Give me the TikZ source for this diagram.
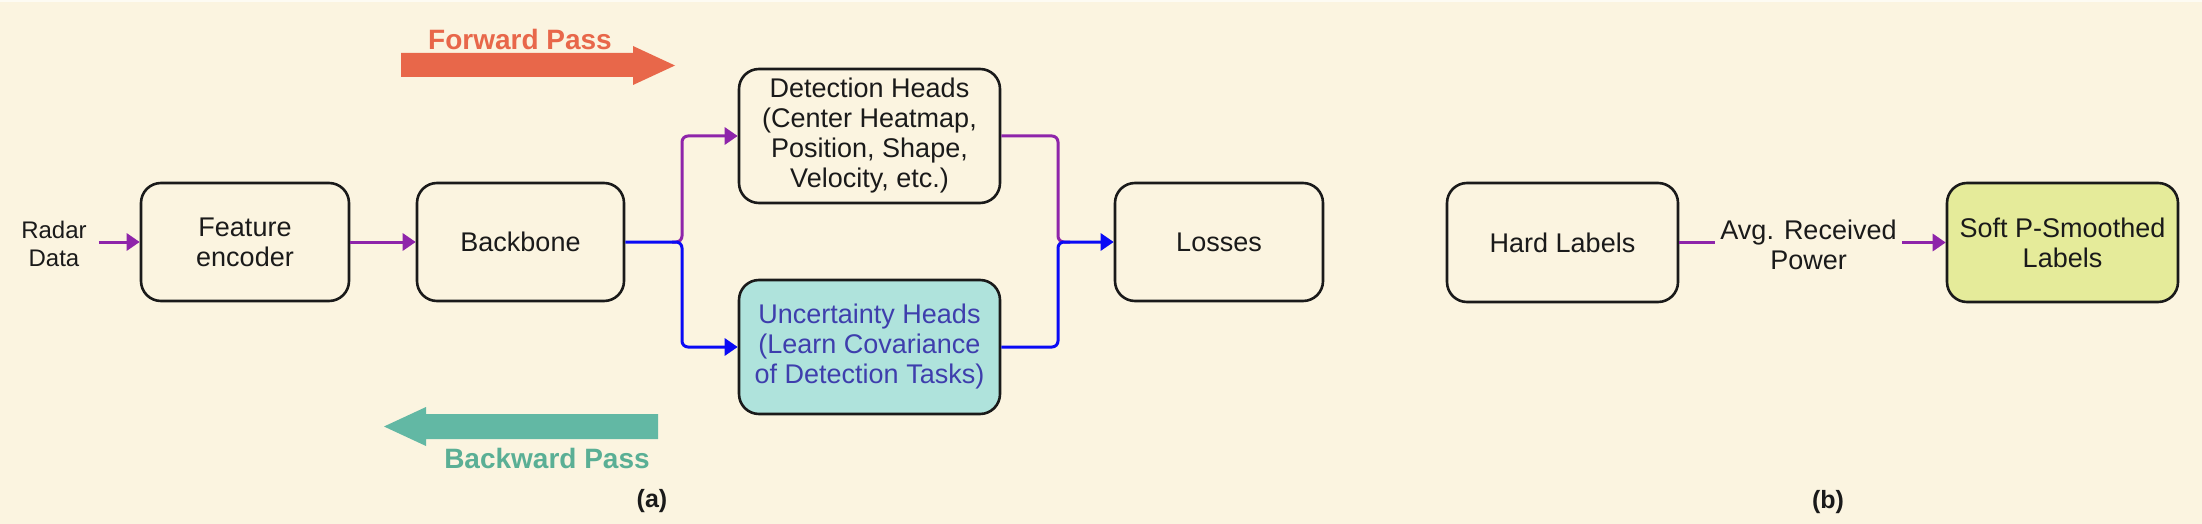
\documentclass[tikz,border=0pt]{standalone}
\usepackage{fontspec}
\setmainfont{Liberation Sans}
\usetikzlibrary{arrows.meta}
\definecolor{bg}{HTML}{FBF4E0}
\definecolor{ink}{HTML}{1A1A1A}
\definecolor{pcol}{HTML}{8E24AA}
\definecolor{bcol}{HTML}{0A0AF5}
\definecolor{fwd}{HTML}{E8674A}
\definecolor{bwd}{HTML}{62B8A4}
\definecolor{bwdtxt}{HTML}{5AAF95}
\definecolor{uncfill}{HTML}{AFE3DC}
\definecolor{unctxt}{HTML}{3E3EAD}
\definecolor{softfill}{HTML}{E5EB9A}
\tikzset{
  box/.style={draw=ink, line width=2.6pt, rounded corners=20pt, align=center,
    text=ink, font=\fontsize{27}{30}\selectfont, inner sep=0pt},
  plain/.style={align=center, text=ink, font=\fontsize{27}{30}\selectfont},
  pconn/.style={draw=pcol, line width=3pt, -{Triangle[length=13pt,width=17pt]}},
  pline/.style={draw=pcol, line width=3pt},
  bconn/.style={draw=bcol, line width=3pt, -{Triangle[length=13pt,width=17pt]}},
  bline/.style={draw=bcol, line width=3pt},
  passlbl/.style={font=\fontsize{28}{30}\selectfont\bfseries},
  sublbl/.style={font=\fontsize{25}{28}\selectfont\bfseries, text=ink}
}
\begin{document}
\begin{tikzpicture}[x=1pt, y=-1pt]
\useasboundingbox (0,0) rectangle (2202,524);
\fill[bg] (0,0) rectangle (2202,524);
\fill[white!60!bg] (0,0) rectangle (2202,2);

% big pass arrows
\fill[fwd] (401,53) -- (633,53) -- (633,46) -- (675,65.5) -- (633,85) -- (633,77) -- (401,77) -- cycle;
\fill[bwd] (658,414) -- (426,414) -- (426,407) -- (384,426.5) -- (426,446) -- (426,439) -- (658,439) -- cycle;
\node[passlbl, text=fwd] (fwdtxt) at (520,39) {Forward Pass};
\node[passlbl, text=bwdtxt] (bwdtxt) at (547,458) {Backward Pass};

% nodes
\node[plain, font=\fontsize{24}{28}\selectfont, inner xsep=12pt] (radar) at (54,244) {Radar\\Data};
\node[box, minimum width=208pt, minimum height=118pt] (feat) at (245,242) {Feature\\encoder};
\node[box, minimum width=207pt, minimum height=118pt] (back) at (520.5,242) {Backbone};
\node[box, minimum width=261pt, minimum height=134pt] (det) at (869.5,136) {Detection Heads\\(Center Heatmap,\\Position, Shape,\\Velocity, etc.)};
\node[box, fill=uncfill, text=unctxt, minimum width=261pt, minimum height=134pt] (unc) at (869.5,347) {Uncertainty Heads\\(Learn Covariance\\of Detection Tasks)};
\node[box, minimum width=208pt, minimum height=118pt] (loss) at (1219,242) {Losses};
\node[box, minimum width=231pt, minimum height=119pt] (hard) at (1562.5,242.5) {Hard Labels};
\node[box, fill=softfill, minimum width=231pt, minimum height=119pt] (soft) at (2062.5,242.5) {Soft P-Smoothed\\Labels};
\node[plain, inner xsep=5pt, inner ysep=0pt] (avg) at (1808.5,245) {Avg. Received\\Power};

\coordinate (split) at (682,242);
\coordinate (merge) at (1058,242);

% connectors
\draw[pconn] (radar.east |- feat.west) -- (feat.west);
\draw[pconn] (feat.east) -- (back.west);
\draw[pconn, rounded corners=6pt] ([xshift=-10pt]split) -- (split) |- (det.west);
\draw[bconn, rounded corners=6pt] (back.east) -- (split) |- (unc.west);
\draw[pline, rounded corners=6pt] (det.east) -| (merge) -- ([xshift=12pt]merge);
\draw[bconn, rounded corners=6pt] (unc.east) -| (merge) -- (loss.west);
\draw[pline] (hard.east) -- (avg.west |- hard.east);
\draw[pconn] (avg.east |- soft.west) -- (soft.west);

% sub labels
\node[sublbl] (la) at (652,501) {(a)};
\node[sublbl] (lb) at (1828,502) {(b)};
\end{tikzpicture}
\end{document}
